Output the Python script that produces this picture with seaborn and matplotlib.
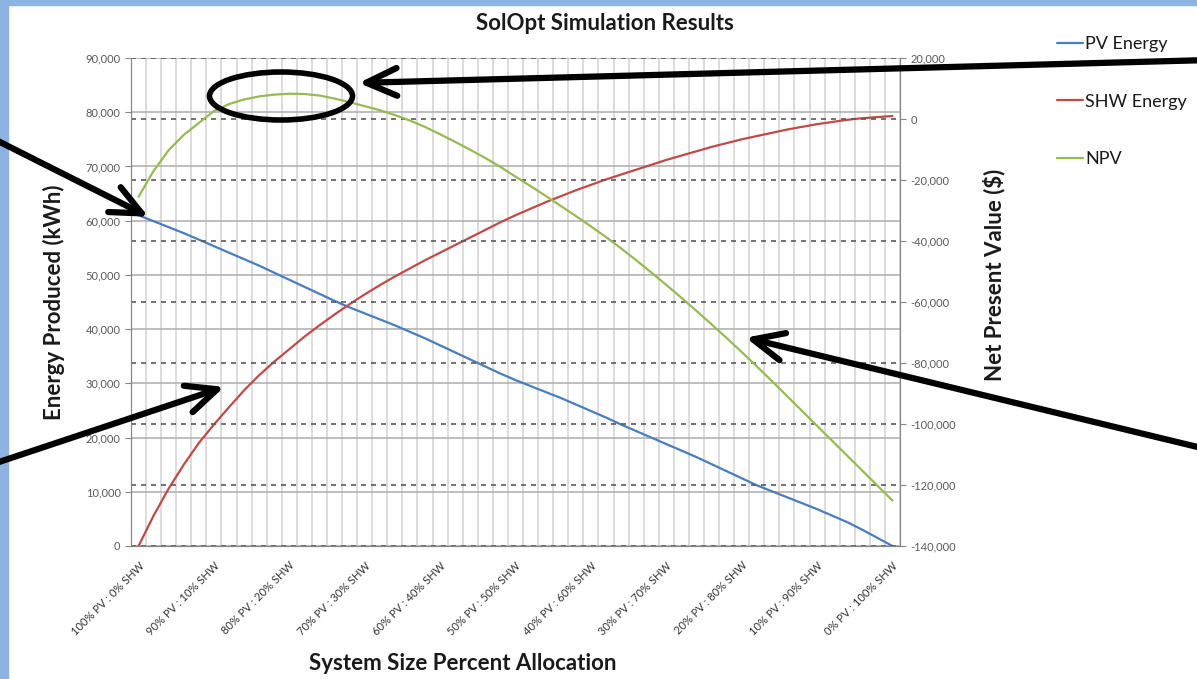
import numpy as np
import pandas as pd
import matplotlib
matplotlib.use("Agg")
import matplotlib.pyplot as plt
import seaborn as sns
from matplotlib.patches import Ellipse, FancyArrowPatch, Rectangle
from matplotlib.ticker import FuncFormatter


# 51 allocation steps, 100% PV -> 0% PV in 2% steps
pv_share = list(range(100, -1, -2))

pv_energy = [61000, 59900, 58800, 57700, 56500, 55300, 54100, 52900, 51700, 50400,
             49100, 47800, 46500, 45200, 44000, 42900, 41800, 40700, 39500, 38300,
             37000, 35700, 34400, 33100, 31800, 30600, 29500, 28400, 27300, 26100,
             24900, 23700, 22400, 21200, 20000, 18800, 17600, 16400, 15100, 13800,
             12500, 11200, 10100, 9000, 7900, 6800, 5600, 4400, 3000, 1500, 0]

shw_energy = [0, 5600, 10600, 15000, 19000, 22400, 25600, 28700, 31500, 34000,
              36300, 38600, 40700, 42700, 44600, 46400, 48100, 49700, 51200, 52700,
              54100, 55500, 56900, 58300, 59700, 61000, 62200, 63400, 64500, 65600,
              66600, 67600, 68500, 69400, 70300, 71200, 72000, 72800, 73600, 74300,
              75000, 75600, 76200, 76800, 77300, 77800, 78200, 78600, 78900, 79100, 79300]

npv = [-25500, -17000, -10200, -5200, -1300, 2600, 4900, 6400, 7400, 8000,
       8300, 8200, 7700, 6700, 5500, 4200, 2900, 1300, -500, -2600,
       -5000, -7500, -10100, -12800, -15700, -18900, -22000, -25200, -28500, -31800,
       -35200, -38700, -42400, -46300, -50300, -54400, -58600, -62900, -67300, -71800,
       -76400, -81100, -85900, -90800, -95700, -100600, -105500, -110400, -115300, -120200, -125100]

tick_labels = ["100% PV : 0% SHW", "90% PV : 10% SHW", "80% PV : 20% SHW",
               "70% PV : 30% SHW", "60% PV : 40% SHW", "50% PV : 50% SHW",
               "40% PV : 60% SHW", "30% PV : 70% SHW", "20% PV : 80% SHW",
               "10% PV : 90% SHW", "0% PV : 100% SHW"]

df = pd.DataFrame({"step": range(len(pv_share)), "pv_share": pv_share,
                   "PV Energy": pv_energy, "SHW Energy": shw_energy, "NPV": npv})

sns.set_style("white")
plt.rcParams['font.family'] = ['Lato', 'DejaVu Sans']

W, H = 1197, 679
fig = plt.figure(figsize=(W / 100, H / 100), dpi=100)
fig.patch.set_facecolor("white")


def fx(x, y):
    # pixel position -> figure fraction
    return (x / W, 1 - y / H)


ax = fig.add_axes([131 / W, 1 - 546 / H, (900 - 131) / W, (546 - 58) / H])
ax2 = ax.twinx()

sns.lineplot(data=df, x="step", y="PV Energy", ax=ax, color="#4A7EBB", lw=1.6)
l_pv = ax.lines[-1]
sns.lineplot(data=df, x="step", y="SHW Energy", ax=ax, color="#BE4B48", lw=1.6)
l_shw = ax.lines[-1]
sns.lineplot(data=df, x="step", y="NPV", ax=ax2, color="#98B954", lw=1.6)
l_npv = ax2.lines[-1]

ax.set_xlim(-0.5, len(pv_share) - 0.5)
ax.set_ylim(0, 90000)
ax2.set_ylim(-140000, 20000)
ax.set_yticks(range(0, 90001, 10000))
ax2.set_yticks(range(-140000, 20001, 20000))

fmt = FuncFormatter(lambda v, _: f"{v:,.0f}")
ax.yaxis.set_major_formatter(fmt)
ax2.yaxis.set_major_formatter(fmt)

ax.set_xticks(range(0, len(pv_share), 5))
ax.set_xticklabels(tick_labels, rotation=45, ha="right", rotation_mode="anchor")
ax.set_xticks(np.arange(-0.5, len(pv_share), 1), minor=True)

ax.set_axisbelow(True)
ax.xaxis.grid(True, which="minor", color="#d9d9d9", lw=1.3)
ax.yaxis.grid(True, color="#b3b3b3", lw=1.2)
ax2.set_axisbelow(True)
ax2.yaxis.grid(True, color="#5a5a5a", lw=1.2, ls=(0, (3, 3)))

ax.tick_params(axis="x", which="major", length=0, pad=10, labelsize=8, labelcolor="#333333")
ax.tick_params(axis="x", which="minor", length=4, color="#868686", width=1)
ax.tick_params(axis="y", length=4, color="#868686", labelsize=8, labelcolor="#595959", left=True)
ax2.tick_params(axis="y", length=4, color="#868686", labelsize=8, labelcolor="#595959", right=True)

for a in (ax, ax2):
    a.set_xlabel("")
    a.set_ylabel("")
    for s in a.spines.values():
        s.set_color("#868686")
    a.spines["top"].set_visible(False)

fig.text(*fx(605, 23), "SolOpt Simulation Results", ha="center", va="center",
         fontsize=16, fontweight="bold", color="#1a1a1a")
fig.text(*fx(54, 302), "Energy Produced (kWh)", ha="center", va="center", rotation=90,
         fontsize=16, fontweight="bold", color="#1a1a1a")
fig.text(*fx(994, 275), "Net Present Value ($)", ha="center", va="center", rotation=90,
         fontsize=16, fontweight="bold", color="#1a1a1a")
fig.text(*fx(463, 663), "System Size Percent Allocation", ha="center", va="center",
         fontsize=16, fontweight="bold", color="#1a1a1a")

fig.legend([l_pv, l_shw, l_npv], ["PV Energy", "SHW Energy", "NPV"],
           loc="upper left", bbox_to_anchor=fx(1041, 20), frameon=False,
           fontsize=13, labelspacing=2.3, handlelength=1.4, handletextpad=0.15,
           labelcolor="#1a1a1a")

# blue frame strips of the slide
fig.patches.append(Rectangle((0, 0), 8 / W, 1, transform=fig.transFigure,
                             color="#8DB3E2", zorder=0))
fig.patches.append(Rectangle((0, 1 - 5 / H), 1, 5 / H, transform=fig.transFigure,
                             color="#8DB3E2", zorder=0))

# hand drawn annotations
fig.patches.append(Ellipse(fx(281, 96), 143 / W, 48 / H, transform=fig.transFigure,
                           fill=False, ec="black", lw=4, zorder=10))
arrows = [((1210, 60), (356, 83)),
          ((-10, 137), (151, 218)),
          ((-10, 465), (227, 386)),
          ((1210, 450), (743, 337))]
for tail, tip in arrows:
    fig.patches.append(FancyArrowPatch(fx(*tail), fx(*tip), transform=fig.transFigure,
                                       arrowstyle="->,head_length=1.1,head_width=0.5",
                                       mutation_scale=20, lw=4.5, color="black",
                                       capstyle="round", joinstyle="round", zorder=10))

fig.savefig("out.png", dpi=100)
